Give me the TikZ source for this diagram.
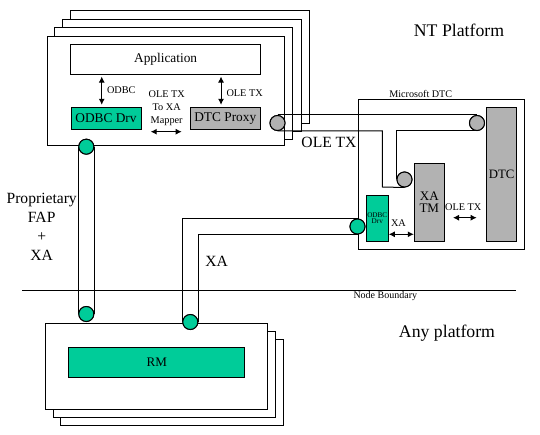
\documentclass[tikz,border=0pt]{standalone}
\usepackage{fontspec}
\setmainfont{Liberation Serif}
\newfontfamily\tnr{Liberation Serif}
\usetikzlibrary{arrows.meta,calc}
\definecolor{grn}{HTML}{00CC99}
\definecolor{gry}{HTML}{B2B2B2}
\begin{document}
\begin{tikzpicture}[x=0.75pt,y=-0.75pt,line width=0.75pt,
  stackbox/.style={draw,fill=white},
  comp/.style={draw,inner sep=0pt,align=center,font=\tnr\fontsize{10}{12}\selectfont},
  pc/.style={circle,draw,inner sep=0pt,minimum size=11.25pt},
  dbl/.style={{Latex[length=4.5pt,width=4.5pt]}-{Latex[length=4.5pt,width=4.5pt]}},
  small/.style={inner sep=0pt,align=center,font=\tnr\fontsize{7.7}{10}\selectfont},
  mid/.style={inner sep=0pt,align=center,font=\tnr\fontsize{11.7}{14.3}\selectfont},
  big/.style={inner sep=0pt,font=\tnr\fontsize{13.3}{16}\selectfont}]
\useasboundingbox (0,0) rectangle (540,435);

% top stack
\draw[stackbox] (70,11) rectangle (309.3,123.3);
\draw[stackbox] (62.3,19.3) rectangle (301,131.5);
\draw[stackbox] (54.3,27.3) rectangle (292.7,139.3);
\draw[stackbox] (47.7,36.7) rectangle (284.3,146);

\node[comp,minimum width=142pt,minimum height=22.3pt] (app) at (165.65,59.15) {Application};
\node[comp,fill=grn,minimum width=52.5pt,minimum height=17pt] (odbcdrv) at (106,118.65) {ODBC Drv};
\node[comp,fill=gry,minimum width=52.5pt,minimum height=17pt] (proxy) at (225.3,118.65) {DTC Proxy};

\draw[dbl,shorten <=1.5pt,shorten >=1.5pt] ([xshift=-3.2pt]odbcdrv.north) -- ([xshift=-3.2pt]odbcdrv.north |- app.south);
\draw[dbl,shorten <=1.5pt,shorten >=1.5pt] ([xshift=-3.2pt]proxy.north) -- ([xshift=-3.2pt]proxy.north |- app.south);
\node[small,anchor=west] (lodbc) at (106.5,90) {ODBC};
\node[small,anchor=west] (lole1) at (226,93.5) {OLE TX};
\node[small] (lmap) at (166.7,108.3) {OLE TX\\To XA\\Mapper};
\coordinate (mapL) at (150.7,131.7);
\coordinate (mapR) at (181.7,131.7);
\draw[dbl] (mapL) -- (mapR);

% Microsoft DTC
\node[draw,fill=white,minimum width=124.5pt,minimum height=112.5pt,inner sep=0pt] (msdtc) at (441.3,174.3) {};
\node[small,anchor=base,font=\tnr\fontsize{7.6}{9}\selectfont] (lms) at (420.8,97.8) {Microsoft DTC};
\node[comp,fill=gry,minimum width=22.5pt,minimum height=100.3pt,font=\tnr\fontsize{9.6}{11}\selectfont] (dtc) at (501.7,174.15) {DTC};
\node[comp,fill=gry,minimum width=22.5pt,minimum height=58.3pt,font=\tnr\fontsize{9.8}{9.5}\selectfont,text depth=0pt] (xatm) at (429.3,202.15) {XA\\TM};
\node[comp,fill=grn,minimum width=16.5pt,minimum height=34.3pt,font=\tnr\fontsize{5.4}{5}\selectfont] (msodbc) at (377.3,218.15) {ODBC\\Drv};
\coordinate (xaL) at (msodbc.east |- 0,234.3);
\coordinate (xaR) at (xatm.west |- 0,234.3);
\draw[dbl] (xaL) -- (xaR);
\node[small,anchor=west] (lxa2) at (390.5,223.3) {XA};
\coordinate (oleL) at (453,217.7);
\coordinate (oleR) at (476.7,217.7);
\draw[dbl] (oleL) -- (oleR);
\node[small] (lole2) at (463.3,207) {OLE TX};

% bottom stack
\draw[stackbox] (60.3,339.3) rectangle (283,425.3);
\draw[stackbox] (53.7,331.3) rectangle (275.3,417.3);
\draw[stackbox] (45.7,323.3) rectangle (267.3,409);
\node[comp,fill=grn,minimum width=131.8pt,minimum height=22.5pt,font=\tnr\fontsize{9.8}{11}\selectfont] (rm) at (156.85,362.3) {RM};

% circles (placed, drawn later)
\path (86.3,146.7) coordinate (pfapT) (86.3,314) coordinate (pfapB)
      (190.3,322) coordinate (pxaB) (357.5,226.5) coordinate (pxaR)
      (277.5,123) coordinate (pg1) (477,123) coordinate (pg2) (404.5,179.5) coordinate (pg3);
\node[pc] (fapT) at (pfapT) {};
\node[pc] (fapB) at (pfapB) {};
\node[pc] (xaB) at (pxaB) {};
\node[pc] (xaRc) at (pxaR) {};
\node[pc] (g1) at (pg1) {};
\node[pc] (g2) at (pg2) {};
\node[pc] (g3) at (pg3) {};

% pipes
\draw (fapT.west) -- (fapB.west);
\draw (fapT.east) -- (fapB.east);
\draw (xaB.west) |- (xaRc.north);
\draw (xaB.east) |- (xaRc.south);
\draw (g1.north) -- (g2.north);
\coordinate (bend) at (382.3,187);
\draw (g1.south) -| (bend) -- (g3.south);
\draw (g2.south) -| (g3.west);

% circles on top
\node[pc,fill=grn] at (fapT) {};
\node[pc,fill=grn] at (fapB) {};
\node[pc,fill=grn] at (xaB) {};
\node[pc,fill=grn] at (xaRc) {};
\node[pc,fill=gry] at (g1) {};
\node[pc,fill=gry] at (g2) {};
\node[pc,fill=gry] at (g3) {};

% labels
\node[mid] (lole) at (329,142.3) {OLE TX};
\node[mid] (lfap) at (41.7,227) {Proprietary\\FAP\\+\\XA};
\node[mid] (lxa) at (216.7,261.7) {XA};
\node[big] (lnt) at (459,30.7) {NT Platform};
\node[big] (lany) at (447,333) {Any platform};

% node boundary
\coordinate (nbL) at (22,290.7);
\coordinate (nbR) at (516,290.7);
\draw (nbL) -- (nbR);
\node[small,font=\tnr\fontsize{7.5}{9}\selectfont] (lnb) at (385.3,296.5) {Node Boundary};
\end{tikzpicture}
\end{document}
